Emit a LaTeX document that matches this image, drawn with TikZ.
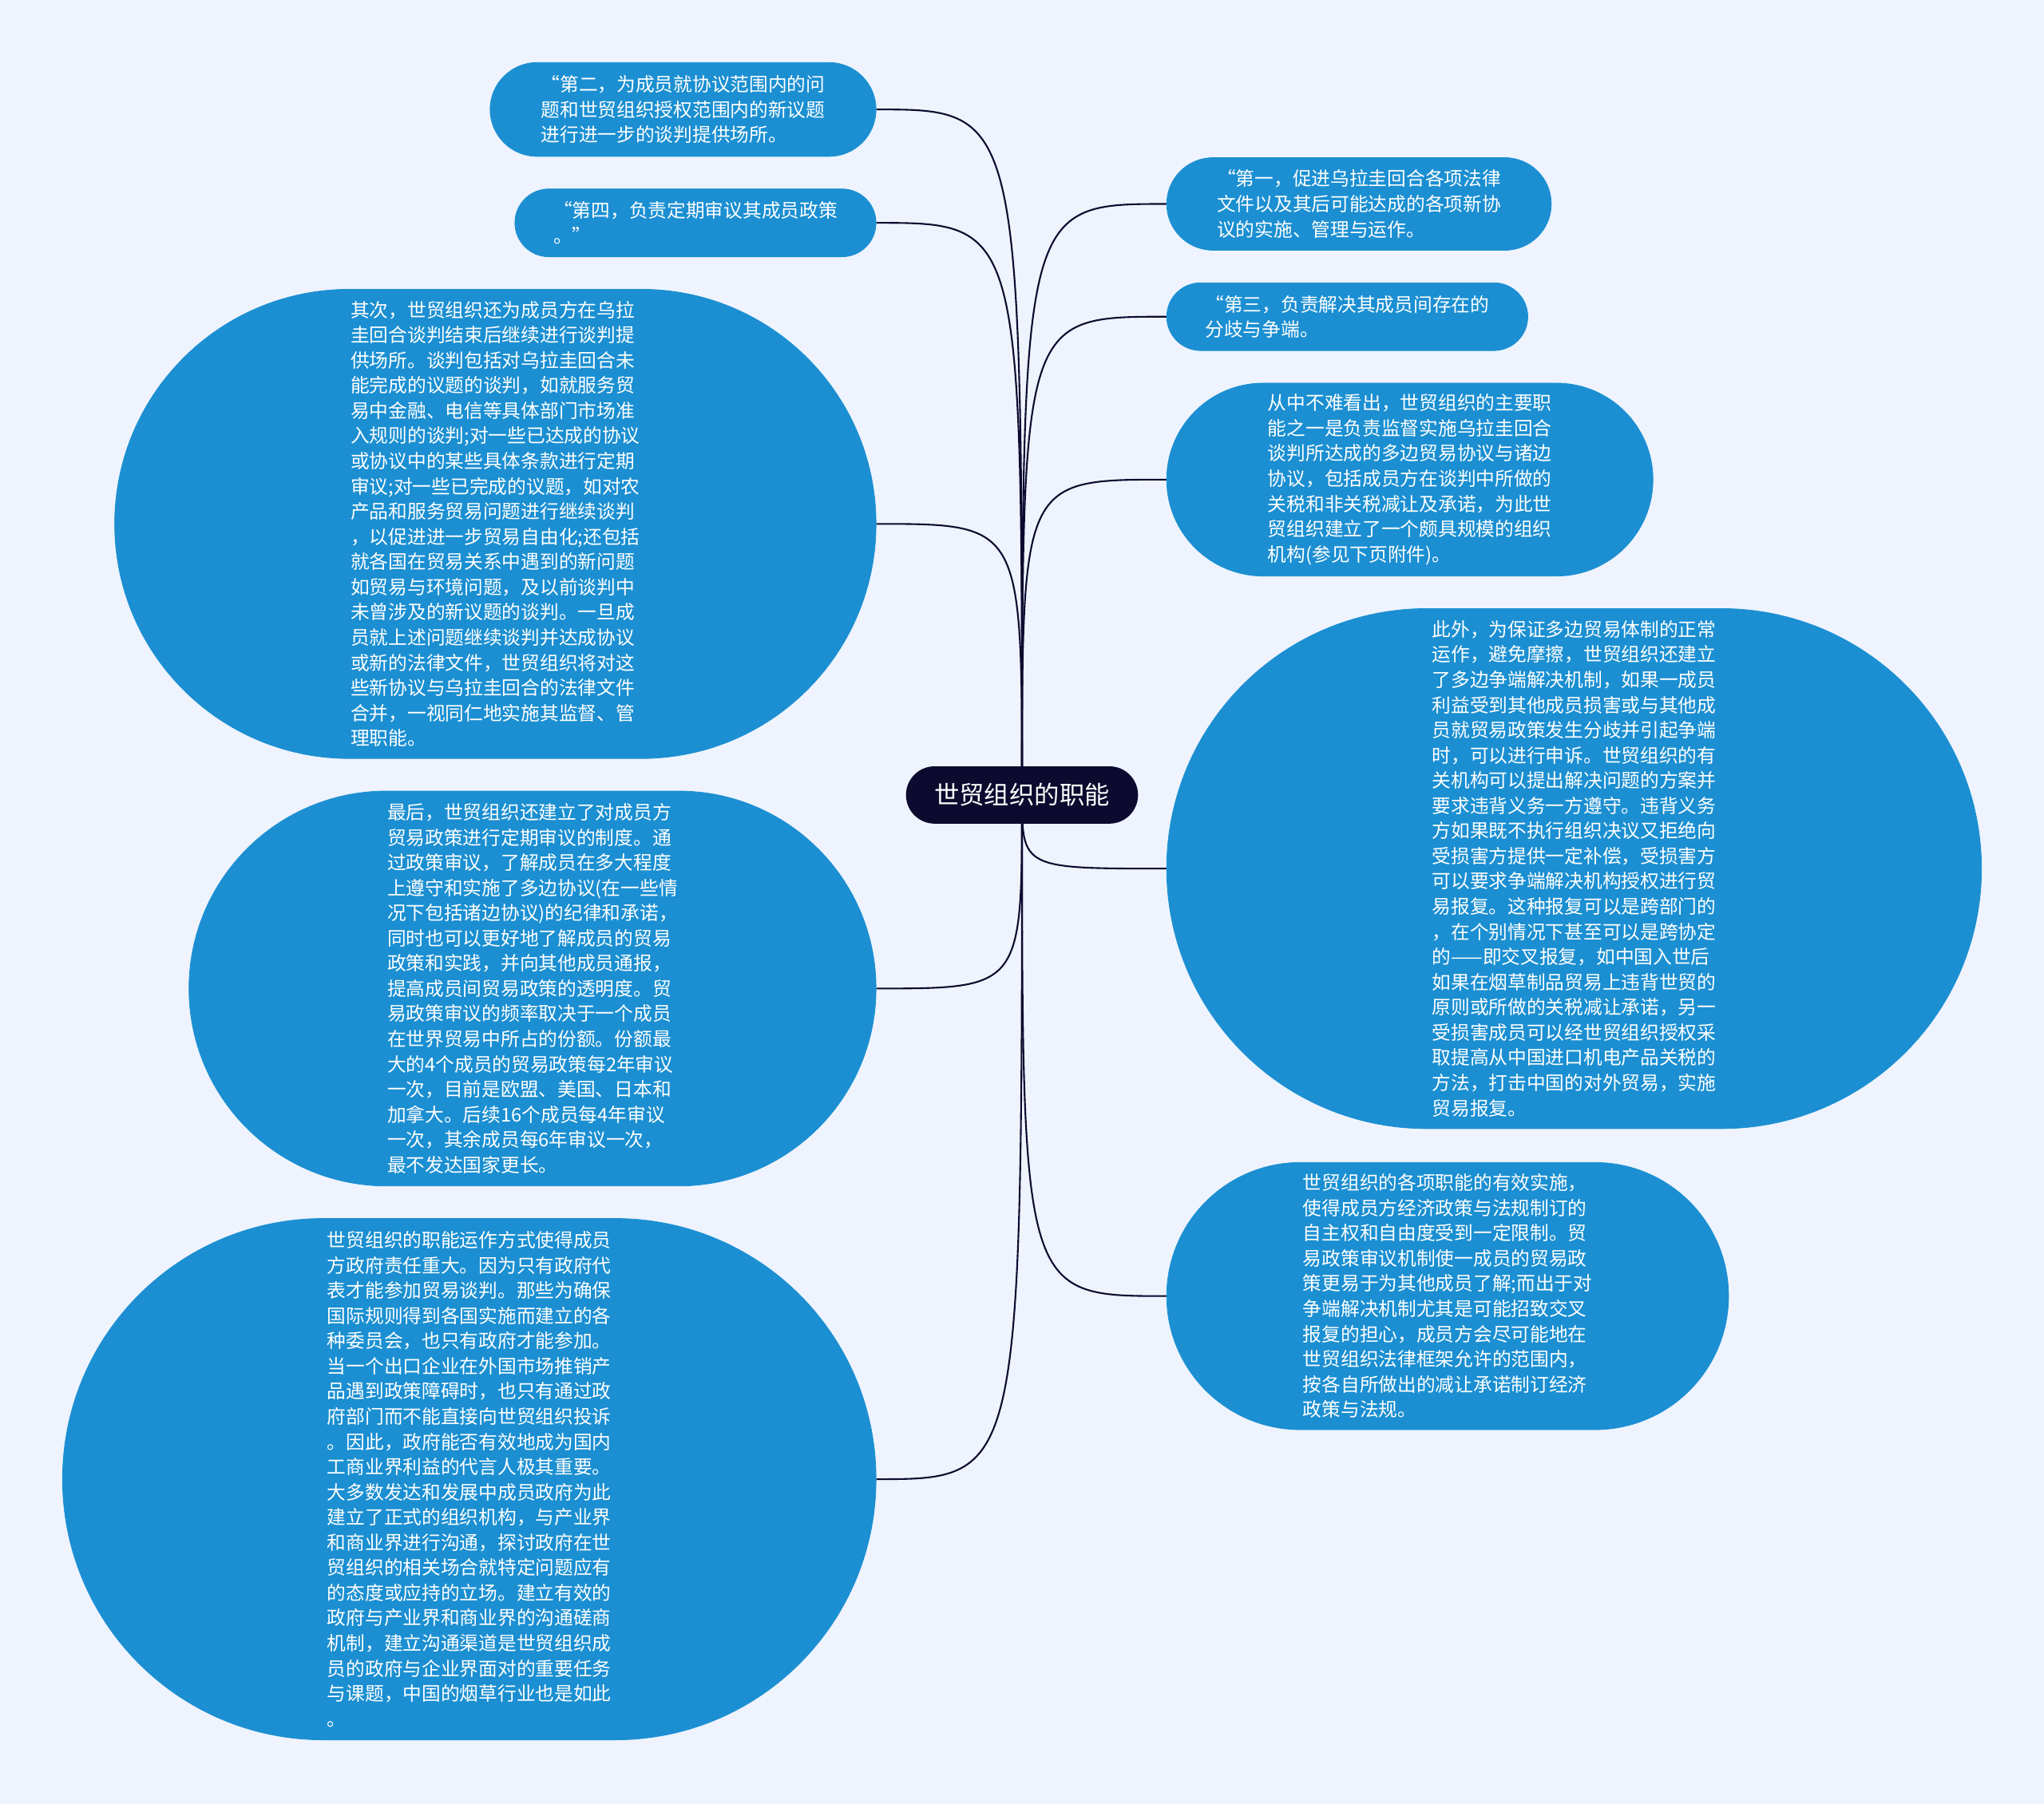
\documentclass[tikz,border=0pt]{standalone}
\usepackage{fontspec}
\setmainfont{Noto Sans CJK SC}
\usepackage{tikz}
\usetikzlibrary{shapes.misc,backgrounds}
\definecolor{topicblue}{HTML}{1B8FD2}
\definecolor{rootnavy}{HTML}{0C0A2E}
\definecolor{paperblue}{HTML}{EEF3FD}

\begin{document}
\begin{tikzpicture}[x=0.03cm, y=-0.03cm,
  topic/.style={rounded rectangle, fill=topicblue, draw=topicblue, text=white, inner sep=0pt, align=left, font=\fontsize{12.4}{16.5}\selectfont},
  root/.style={rounded rectangle, fill=rootnavy, text=white, inner sep=0pt, font=\fontsize{16.4}{20}\selectfont},
  branch/.style={draw=rootnavy, line width=1.1pt}]

\useasboundingbox (0,0) rectangle (1568,1384);

% centre
\node[root, minimum width=5.34cm, minimum height=1.32cm] (W) at (784,610) {世贸组织的职能};

% left side
\node[topic, minimum width=8.88cm, minimum height=2.16cm] (L1) at (524,84) {“第二，为成员就协议范围内的问\\题和世贸组织授权范围内的新议题\\进行进一步的谈判提供场所。};
\node[topic, minimum width=8.31cm, minimum height=1.56cm] (L2) at (533.5,171) {“第四，负责定期审议其成员政策\\。”};
\node[topic, minimum width=17.52cm, minimum height=10.8cm] (L3) at (380,402) {其次，世贸组织还为成员方在乌拉\\圭回合谈判结束后继续进行谈判提\\供场所。谈判包括对乌拉圭回合未\\能完成的议题的谈判，如就服务贸\\易中金融、电信等具体部门市场准\\入规则的谈判;对一些已达成的协议\\或协议中的某些具体条款进行定期\\审议;对一些已完成的议题，如对农\\产品和服务贸易问题进行继续谈判\\，以促进进一步贸易自由化;还包括\\就各国在贸易关系中遇到的新问题\\如贸易与环境问题，及以前谈判中\\未曾涉及的新议题的谈判。一旦成\\员就上述问题继续谈判并达成协议\\或新的法律文件，世贸组织将对这\\些新协议与乌拉圭回合的法律文件\\合并，一视同仁地实施其监督、管\\理职能。};
\node[topic, minimum width=15.81cm, minimum height=9.09cm] (L4) at (408.5,758.5) {最后，世贸组织还建立了对成员方\\贸易政策进行定期审议的制度。通\\过政策审议，了解成员在多大程度\\上遵守和实施了多边协议(在一些情\\况下包括诸边协议)的纪律和承诺，\\同时也可以更好地了解成员的贸易\\政策和实践，并向其他成员通报，\\提高成员间贸易政策的透明度。贸\\易政策审议的频率取决于一个成员\\在世界贸易中所占的份额。份额最\\大的4个成员的贸易政策每2年审议\\一次，目前是欧盟、美国、日本和\\加拿大。后续16个成员每4年审议\\一次，其余成员每6年审议一次，\\最不发达国家更长。};
\node[topic, minimum width=18.72cm, minimum height=12cm] (L5) at (360,1135) {世贸组织的职能运作方式使得成员\\方政府责任重大。因为只有政府代\\表才能参加贸易谈判。那些为确保\\国际规则得到各国实施而建立的各\\种委员会，也只有政府才能参加。\\当一个出口企业在外国市场推销产\\品遇到政策障碍时，也只有通过政\\府部门而不能直接向世贸组织投诉\\。因此，政府能否有效地成为国内\\工商业界利益的代言人极其重要。\\大多数发达和发展中成员政府为此\\建立了正式的组织机构，与产业界\\和商业界进行沟通，探讨政府在世\\贸组织的相关场合就特定问题应有\\的态度或应持的立场。建立有效的\\政府与产业界和商业界的沟通磋商\\机制，建立沟通渠道是世贸组织成\\员的政府与企业界面对的重要任务\\与课题，中国的烟草行业也是如此\\。};

% right side
\node[topic, minimum width=8.85cm, minimum height=2.13cm] (R1) at (1042.5,156.5) {“第一，促进乌拉圭回合各项法律\\文件以及其后可能达成的各项新协\\议的实施、管理与运作。};
\node[topic, minimum width=8.31cm, minimum height=1.56cm] (R2) at (1033.5,243) {“第三，负责解决其成员间存在的\\分歧与争端。};
\node[topic, minimum width=11.19cm, minimum height=4.44cm] (R3) at (1081.5,368) {从中不难看出，世贸组织的主要职\\能之一是负责监督实施乌拉圭回合\\谈判所达成的多边贸易协议与诸边\\协议，包括成员方在谈判中所做的\\关税和非关税减让及承诺，为此世\\贸组织建立了一个颇具规模的组织\\机构(参见下页附件)。};
\node[topic, minimum width=18.75cm, minimum height=11.97cm] (R4) at (1207.5,666.5) {此外，为保证多边贸易体制的正常\\运作，避免摩擦，世贸组织还建立\\了多边争端解决机制，如果一成员\\利益受到其他成员损害或与其他成\\员就贸易政策发生分歧并引起争端\\时，可以进行申诉。世贸组织的有\\关机构可以提出解决问题的方案并\\要求违背义务一方遵守。违背义务\\方如果既不执行组织决议又拒绝向\\受损害方提供一定补偿，受损害方\\可以要求争端解决机构授权进行贸\\易报复。这种报复可以是跨部门的\\，在个别情况下甚至可以是跨协定\\的——即交叉报复，如中国入世后\\如果在烟草制品贸易上违背世贸的\\原则或所做的关税减让承诺，另一\\受损害成员可以经世贸组织授权采\\取提高从中国进口机电产品关税的\\方法，打击中国的对外贸易，实施\\贸易报复。};
\node[topic, minimum width=12.93cm, minimum height=6.15cm] (R5) at (1110.5,994.5) {世贸组织的各项职能的有效实施，\\使得成员方经济政策与法规制订的\\自主权和自由度受到一定限制。贸\\易政策审议机制使一成员的贸易政\\策更易于为其他成员了解;而出于对\\争端解决机制尤其是可能招致交叉\\报复的担心，成员方会尽可能地在\\世贸组织法律框架允许的范围内，\\按各自所做出的减让承诺制订经济\\政策与法规。};

% branches behind the nodes
\begin{pgfonlayer}{background}
\fill[paperblue] (0,0) rectangle (1568,1384);
\draw[branch] (W.center) .. controls (W.center |- L1.east) .. (L1.east);
\draw[branch] (W.center) .. controls (W.center |- L2.east) .. (L2.east);
\draw[branch] (W.center) .. controls (W.center |- L3.east) .. (L3.east);
\draw[branch] (W.center) .. controls (W.center |- L4.east) .. (L4.east);
\draw[branch] (W.center) .. controls (W.center |- L5.east) .. (L5.east);
\draw[branch] (W.center) .. controls (W.center |- R1.west) .. (R1.west);
\draw[branch] (W.center) .. controls (W.center |- R2.west) .. (R2.west);
\draw[branch] (W.center) .. controls (W.center |- R3.west) .. (R3.west);
\draw[branch] (W.center) .. controls (W.center |- R4.west) .. (R4.west);
\draw[branch] (W.center) .. controls (W.center |- R5.west) .. (R5.west);
\end{pgfonlayer}

\end{tikzpicture}
\end{document}
